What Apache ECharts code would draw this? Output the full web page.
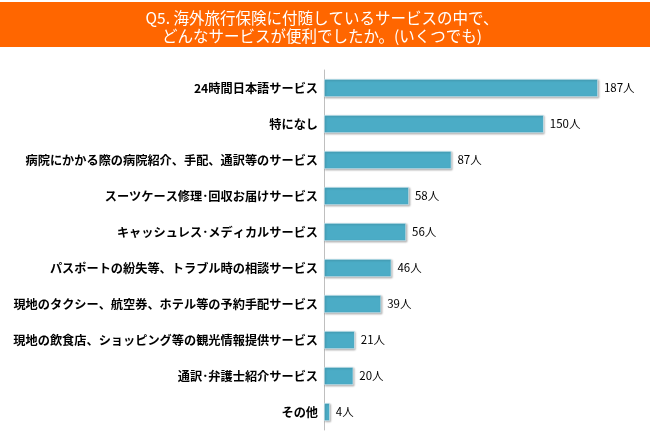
<!DOCTYPE html>
<html><head><meta charset="utf-8">
<script src="https://cdn.jsdelivr.net/npm/echarts@6/dist/echarts.min.js"></script>
<style>html,body{margin:0;padding:0;background:#fff;}#c{width:650px;height:436px;}</style>
</head><body><div id="c"></div>
<script>
const titleLines = ['Q5. 海外旅行保険に付随しているサービスの中で、', 'どんなサービスが便利でしたか。(いくつでも)'];
const categories = [
  '24時間日本語サービス',
  '特になし',
  '病院にかかる際の病院紹介、手配、通訳等のサービス',
  'スーツケース修理･回収お届けサービス',
  'キャッシュレス･メディカルサービス',
  'パスポートの紛失等、トラブル時の相談サービス',
  '現地のタクシー、航空券、ホテル等の予約手配サービス',
  '現地の飲食店、ショッピング等の観光情報提供サービス',
  '通訳･弁護士紹介サービス',
  'その他'
];
const values = [187, 150, 87, 58, 56, 46, 39, 21, 20, 4];
const unit = '人';

const chart = echarts.init(document.getElementById('c'));
chart.setOption({
  animation: false,
  textStyle: {fontFamily: '"Noto Sans CJK JP", sans-serif'},
  graphic: [
    {type: 'rect', shape: {x: 0, y: 2, width: 650, height: 45}, style: {fill: '#FF6600'}, z: 0},
    {type: 'text', x: 322, y: 18, style: {text: titleLines[0], fill: '#fff', fontSize: 15.5, align: 'center', verticalAlign: 'middle', fontFamily: '"Noto Sans CJK JP", sans-serif'}},
    {type: 'text', x: 322, y: 36, style: {text: titleLines[1], fill: '#fff', fontSize: 15.5, align: 'center', verticalAlign: 'middle', fontFamily: '"Noto Sans CJK JP", sans-serif'}}
  ],
  grid: {left: 324, right: 33, top: 70, bottom: 6, containLabel: false},
  xAxis: {type: 'value', min: 0, max: 200, show: false},
  yAxis: {
    type: 'category', data: categories, inverse: true,
    axisLine: {show: true, lineStyle: {color: '#bfbfbf', width: 1}},
    axisTick: {show: false},
    axisLabel: {color: '#000', fontSize: 12.2, fontWeight: 'bold', margin: 6}
  },
  series: [{
    type: 'bar', data: values, barWidth: 18,
    itemStyle: {color: '#4BACC6', borderColor: '#e8f4f8', borderWidth: 0.6,
      shadowColor: 'rgba(0,0,0,0.3)', shadowBlur: 2, shadowOffsetX: 1, shadowOffsetY: 1},
    label: {show: true, position: 'right', distance: 6, color: '#000', fontSize: 11.5,
      formatter: p => p.value + unit}
  }]
});
</script></body></html>
